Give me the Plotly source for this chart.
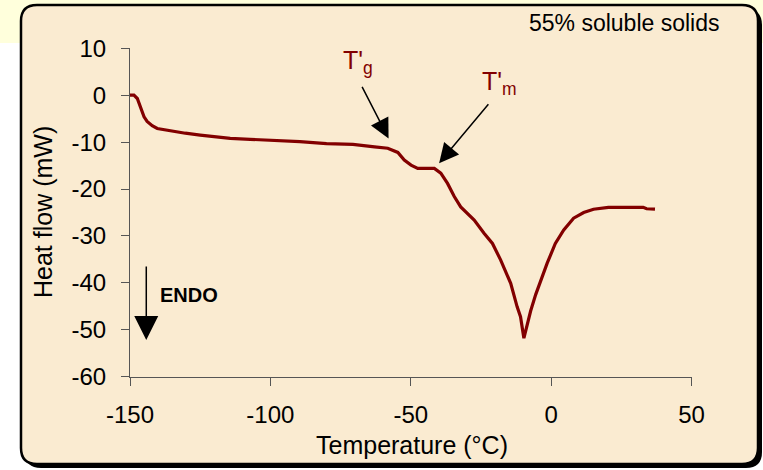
import plotly.graph_objects as go

# DSC thermogram, 55% soluble solids
temperature = [-150, -148.6, -147.4, -146.2, -145, -143.9, -142.1, -140.3, -135.6, -130.3,
               -125, -119.6, -114.3, -107.2, -99.5, -89.5, -80, -70.6, -62.9, -58.2,
               -54.6, -52.3, -49.9, -47.5, -41.6, -39.3, -36.9, -34.5, -32.2, -27.4,
               -23.9, -20.9, -18, -14.4, -12.1, -10.9, -9.7, -8.5, -7.3, -5.5,
               -3.8, -1.4, 1.5, 4.5, 8, 11.6, 15.1, 20.4, 32.8, 34, 37]
heat_flow = [0, 0, -0.7, -2.8, -4.6, -5.6, -6.5, -7.1, -7.6, -8.1,
             -8.5, -8.8, -9.2, -9.4, -9.6, -9.9, -10.3, -10.5, -11.0, -11.3,
             -12.2, -13.8, -14.9, -15.6, -15.6, -16.6, -18.8, -21.6, -23.8, -26.6,
             -29.4, -31.6, -35.1, -40.1, -45.1, -47.2, -51.8, -48.6, -46.0, -42.5,
             -39.5, -35.8, -31.6, -28.7, -26.2, -25.0, -24.3, -23.9, -23.9, -24.2, -24.3]

x_ticks = [-150, -100, -50, 0, 50]
x_tick_labels = ["-150", "-100", "-50", "0", "50"]
y_ticks = [-60, -50, -40, -30, -20, -10, 0, 10]
y_tick_labels = ["-60", "-50", "-40", "-30", "-20", "-10", "0", "10"]

W, H = 763, 470
FONT = "Liberation Sans, Arial, sans-serif"
CURVE = "#820000"


def px(x):
    return x / W


def py(y):
    return 1 - y / H


def rounded_rect(x0, y0, x1, y1, r):
    """Rounded rectangle path in paper coordinates from pixel corners."""
    pts = [
        ("M", [(x0 + r, y0)]),
        ("L", [(x1 - r, y0)]),
        ("Q", [(x1, y0), (x1, y0 + r)]),
        ("L", [(x1, y1 - r)]),
        ("Q", [(x1, y1), (x1 - r, y1)]),
        ("L", [(x0 + r, y1)]),
        ("Q", [(x0, y1), (x0, y1 - r)]),
        ("L", [(x0, y0 + r)]),
        ("Q", [(x0, y0), (x0 + r, y0)]),
    ]
    out = []
    for cmd, coords in pts:
        out.append(cmd + " ".join(f"{px(a):.5f},{py(b):.5f}" for a, b in coords))
    return " ".join(out) + " Z"


def label(text, x, y, size, color="black", **kw):
    return dict(text=text, x=px(x), y=py(y), xref="paper", yref="paper",
                xanchor="center", yanchor="middle", showarrow=False,
                font=dict(family=FONT, size=size, color=color), **kw)


def arrow(x, y, ax, ay, size):
    return dict(text="", x=x, y=y, ax=ax, ay=ay, xref="x", yref="y",
                axref="x", ayref="y", showarrow=True, arrowhead=2,
                arrowsize=size, arrowwidth=1.5, arrowcolor="black")


fig = go.Figure()
fig.add_trace(go.Scatter(
    x=temperature, y=heat_flow, mode="lines",
    line=dict(color=CURVE, width=3.2), showlegend=False, hoverinfo="skip",
))

shapes = [
    # pale header band
    dict(type="rect", xref="paper", yref="paper", x0=0, x1=1, y0=py(43), y1=1,
         fillcolor="#FFFFDC", line=dict(width=0), layer="below"),
    # drop shadow
    dict(type="path", xref="paper", yref="paper", path=rounded_rect(25, 9, 762, 468, 16),
         fillcolor="black", line=dict(width=0), layer="below"),
    # parchment panel
    dict(type="path", xref="paper", yref="paper", path=rounded_rect(21, 5, 758, 464, 16),
         fillcolor="#FAEBD1", line=dict(color="black", width=2.5), layer="below"),
]

annotations = [
    label("55% soluble solids", 624, 23, 23),
    label("Temperature (°C)", 412, 445, 25),
    label("Heat flow (mW)", 43, 212, 25, textangle=-90),
    label("T'<sub>g</sub>", 358, 62, 25, CURVE),
    label("T'<sub>m</sub>", 499, 83, 25, CURVE),
    label("<b>ENDO</b>", 189, 295, 20),
    arrow(-57.9, -9.2, -67.6, 2.1, 2.6),
    arrow(-39.9, -14.5, -21.9, -1.6, 2.6),
    arrow(-144.2, -52.2, -144.2, -36.2, 3.2),
]

axis_common = dict(showgrid=False, zeroline=False, showline=True, linecolor="#555",
                   linewidth=1, ticks="outside", ticklen=8, tickcolor="#555",
                   automargin=False,
                   tickfont=dict(family=FONT, size=24, color="black"))

fig.update_layout(
    width=W, height=H,
    margin=dict(l=0, r=0, t=0, b=0, pad=0, autoexpand=False),
    paper_bgcolor="white", plot_bgcolor="rgba(0,0,0,0)",
    shapes=shapes, annotations=annotations,
    xaxis=dict(range=[-150, 50], domain=[px(130), px(691.5)], tickvals=x_ticks,
               ticktext=x_tick_labels, ticklabelstandoff=8, **axis_common),
    yaxis=dict(range=[-60, 10], domain=[py(376.7), py(48.3)], tickvals=y_ticks,
               ticktext=y_tick_labels, ticklabelstandoff=10, **axis_common),
)

fig.write_html("out.html")
